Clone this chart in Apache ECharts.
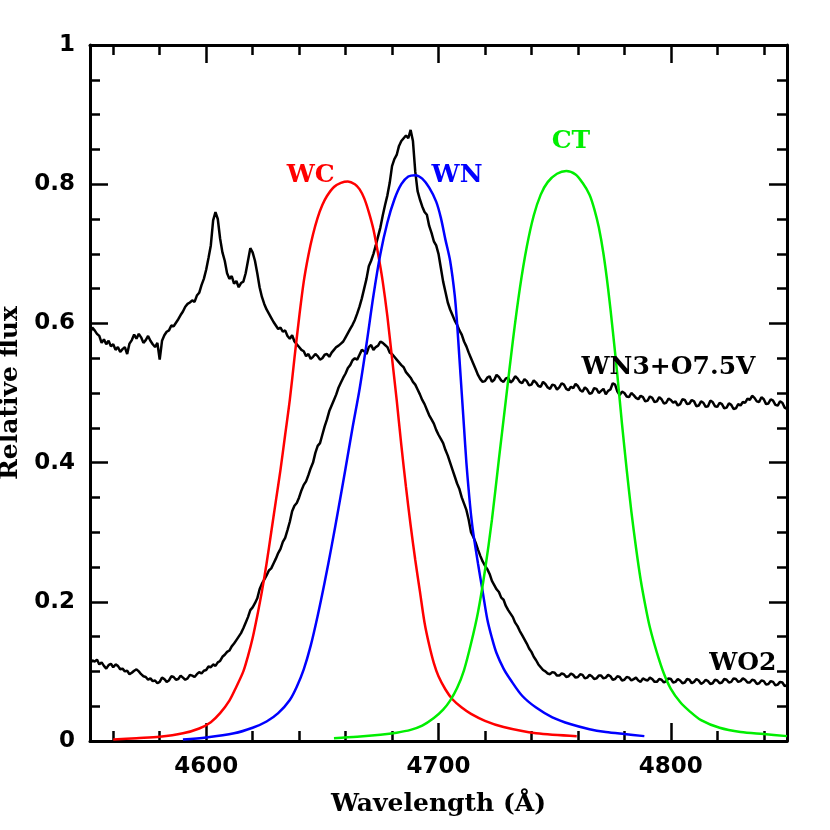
<!DOCTYPE html>
<html>
<head>
<meta charset="utf-8">
<script src="https://cdn.jsdelivr.net/npm/echarts@6/dist/echarts.min.js"></script>
<style>html,body{margin:0;padding:0;background:#fff}#chart{width:830px;height:830px}</style>
</head>
<body>
<div id="chart"></div>
<script>
// ---- data ----
const xTickLabels = [4600, 4700, 4800];
const yTickLabels = [0, 0.2, 0.4, 0.6, 0.8, 1];

// WN3+O7.5V spectrum, sampled every 1 A from 4550 to 4850
const wn3Flux = [
0.586,0.594,0.590,0.585,0.582,0.572,0.577,0.570,0.575,0.567,
0.570,0.562,0.566,0.559,0.563,0.566,0.556,0.571,0.576,0.584,
0.578,0.585,0.580,0.572,0.576,0.582,0.575,0.570,0.566,0.572,
0.548,0.575,0.583,0.588,0.590,0.597,0.596,0.601,0.606,0.612,
0.617,0.624,0.628,0.630,0.633,0.631,0.640,0.644,0.655,0.664,
0.677,0.694,0.712,0.748,0.760,0.750,0.722,0.702,0.690,0.672,
0.664,0.668,0.657,0.661,0.652,0.658,0.660,0.672,0.690,0.708,
0.702,0.690,0.672,0.652,0.638,0.628,0.620,0.614,0.608,0.602,
0.597,0.592,0.594,0.588,0.590,0.582,0.578,0.583,0.574,0.570,
0.566,0.562,0.560,0.553,0.556,0.549,0.552,0.556,0.553,0.548,
0.550,0.555,0.556,0.552,0.558,0.562,0.566,0.568,0.571,0.574,
0.580,0.586,0.592,0.598,0.605,0.614,0.624,0.636,0.650,0.664,
0.682,0.690,0.700,0.712,0.725,0.738,0.755,0.770,0.784,0.802,
0.826,0.836,0.842,0.855,0.862,0.866,0.870,0.866,0.878,0.862,
0.818,0.790,0.778,0.768,0.760,0.756,0.740,0.730,0.718,0.712,
0.700,0.680,0.660,0.645,0.630,0.620,0.612,0.604,0.598,0.590,
0.584,0.574,0.567,0.558,0.550,0.542,0.534,0.526,0.520,0.516,
0.517,0.522,0.524,0.516,0.519,0.526,0.523,0.518,0.516,0.521,
0.522,0.515,0.518,0.524,0.521,0.516,0.514,0.520,0.517,0.511,
0.512,0.518,0.515,0.510,0.509,0.516,0.513,0.508,0.506,0.512,
0.511,0.505,0.508,0.514,0.512,0.506,0.504,0.509,0.507,0.513,
0.510,0.504,0.502,0.508,0.505,0.499,0.500,0.507,0.506,0.500,
0.503,0.506,0.498,0.503,0.505,0.514,0.512,0.502,0.497,0.502,
0.500,0.495,0.494,0.500,0.497,0.493,0.491,0.496,0.494,0.488,
0.489,0.495,0.493,0.487,0.488,0.494,0.491,0.485,0.486,0.492,
0.490,0.486,0.488,0.482,0.484,0.491,0.490,0.484,0.485,0.490,
0.488,0.481,0.482,0.488,0.486,0.480,0.481,0.489,0.487,0.481,
0.480,0.486,0.484,0.478,0.479,0.485,0.483,0.477,0.478,0.484,
0.482,0.487,0.486,0.492,0.490,0.496,0.493,0.488,0.487,0.494,
0.491,0.484,0.485,0.491,0.489,0.483,0.482,0.488,0.486,0.479,
0.477
];

// WO2 spectrum, sampled every 1 A from 4550 to 4850
const wo2Flux = [
0.110,0.116,0.114,0.117,0.110,0.113,0.108,0.104,0.109,0.111,
0.106,0.110,0.108,0.103,0.104,0.100,0.101,0.096,0.098,0.101,
0.103,0.100,0.096,0.093,0.092,0.088,0.090,0.086,0.087,0.083,
0.085,0.091,0.089,0.085,0.087,0.093,0.092,0.088,0.089,0.094,
0.091,0.088,0.090,0.095,0.094,0.092,0.096,0.099,0.097,0.101,
0.102,0.107,0.106,0.110,0.108,0.113,0.115,0.121,0.124,0.128,
0.130,0.136,0.140,0.145,0.150,0.155,0.162,0.170,0.178,0.188,
0.192,0.198,0.205,0.218,0.226,0.232,0.238,0.245,0.248,0.255,
0.262,0.270,0.276,0.286,0.292,0.303,0.315,0.330,0.338,0.342,
0.350,0.360,0.368,0.373,0.382,0.392,0.400,0.414,0.424,0.428,
0.440,0.452,0.462,0.474,0.482,0.490,0.498,0.508,0.515,0.522,
0.528,0.536,0.540,0.547,0.550,0.548,0.555,0.562,0.560,0.556,
0.566,0.569,0.562,0.566,0.568,0.574,0.572,0.569,0.566,0.558,
0.556,0.552,0.548,0.544,0.540,0.537,0.530,0.526,0.522,0.516,
0.512,0.505,0.498,0.490,0.484,0.476,0.468,0.462,0.456,0.447,
0.440,0.434,0.428,0.418,0.410,0.400,0.390,0.380,0.370,0.362,
0.350,0.341,0.332,0.318,0.300,0.293,0.285,0.275,0.266,0.258,
0.252,0.247,0.240,0.230,0.224,0.218,0.214,0.206,0.203,0.194,
0.188,0.183,0.178,0.170,0.165,0.158,0.152,0.146,0.140,0.133,
0.128,0.121,0.116,0.110,0.106,0.102,0.100,0.097,0.096,0.099,
0.098,0.094,0.094,0.097,0.096,0.092,0.093,0.097,0.095,0.091,
0.092,0.096,0.095,0.090,0.091,0.095,0.093,0.089,0.090,0.094,
0.094,0.090,0.091,0.095,0.093,0.088,0.089,0.093,0.092,0.087,
0.088,0.092,0.091,0.087,0.089,0.091,0.087,0.085,0.090,0.088,
0.087,0.091,0.089,0.085,0.085,0.089,0.088,0.084,0.086,0.090,
0.089,0.084,0.085,0.089,0.087,0.083,0.084,0.089,0.088,0.083,
0.085,0.089,0.087,0.082,0.084,0.088,0.086,0.082,0.083,0.088,
0.087,0.083,0.084,0.089,0.088,0.084,0.085,0.090,0.089,0.085,
0.086,0.090,0.088,0.084,0.084,0.088,0.087,0.082,0.083,0.087,
0.086,0.081,0.082,0.086,0.085,0.080,0.081,0.085,0.084,0.079,
0.080
];

// Filter transmission curves
const wcWave  = [4560,4570,4580,4590,4597,4602,4606,4610,4613,4616,4618,4620,4622,4624,4626,4628,4630,4632,4634,4636,4638,4640,4642,4644,4646,4648,4650,4652,4655,4658,4661,4664,4666,4668,4670,4672,4674,4676,4678,4680,4682,4684,4686,4688,4690,4692,4694,4696,4698,4700,4703,4706,4710,4714,4720,4728,4742,4759.5];
const wcTrans = [0.002,0.004,0.006,0.011,0.018,0.027,0.040,0.058,0.078,0.100,0.122,0.148,0.180,0.215,0.255,0.300,0.345,0.390,0.440,0.490,0.550,0.608,0.660,0.698,0.728,0.752,0.770,0.783,0.796,0.802,0.804,0.800,0.793,0.780,0.760,0.735,0.700,0.660,0.610,0.550,0.490,0.425,0.365,0.310,0.260,0.215,0.170,0.138,0.112,0.093,0.074,0.060,0.048,0.039,0.029,0.020,0.011,0.007];

const wnWave  = [4590,4600,4612,4620,4626,4631,4636,4639,4642,4645,4648,4651,4654,4657,4660,4663,4666,4669,4672,4675,4678,4681,4684,4687,4690,4693,4696,4699,4701,4703,4705,4707,4708,4709,4710,4711,4712,4713,4714,4715,4717,4719,4721,4723,4725,4728,4731,4736,4742,4749,4757,4765,4772,4780,4788.6];
const wnTrans = [0.002,0.005,0.011,0.019,0.028,0.040,0.059,0.078,0.103,0.137,0.180,0.228,0.280,0.335,0.392,0.450,0.505,0.570,0.640,0.700,0.745,0.778,0.800,0.811,0.813,0.808,0.795,0.775,0.752,0.720,0.690,0.640,0.600,0.550,0.500,0.450,0.400,0.360,0.325,0.298,0.255,0.215,0.175,0.148,0.126,0.104,0.088,0.065,0.048,0.034,0.024,0.017,0.013,0.010,0.007];

const ctWave  = [4655,4665,4675,4682,4688,4693,4698,4702,4705,4708,4711,4714,4717,4720,4723,4726,4729,4732,4735,4738,4741,4744,4747,4751,4755,4759,4762,4765,4767,4769,4771,4773,4775,4777,4779,4781,4783,4785,4787,4789,4791,4794,4797,4800,4804,4808,4813,4821,4830,4840,4850];
const ctTrans = [0.004,0.006,0.009,0.012,0.016,0.022,0.033,0.045,0.058,0.076,0.102,0.140,0.185,0.245,0.318,0.405,0.490,0.575,0.650,0.710,0.755,0.785,0.803,0.815,0.819,0.814,0.802,0.785,0.765,0.738,0.700,0.650,0.590,0.525,0.455,0.390,0.330,0.278,0.232,0.195,0.163,0.127,0.097,0.075,0.056,0.043,0.030,0.019,0.013,0.010,0.007];

// ---- build ----
const specStart = 4550, specStep = 1;
function specPairs(arr){ return arr.map((v,i)=>[specStart + i*specStep, v]); }
function pairs(xs, ys){ return xs.map((x,i)=>[x, ys[i]]); }

const xMinor = []; for (let v = 4560; v <= 4840; v += 20) if (v % 100 !== 0) xMinor.push(v);
const yMinor = []; for (let k = 1; k < 20; k++) if (k % 4 !== 0) yMinor.push(Math.round(k*5)/100);

const FONT_LBL = 'DejaVu Sans';
const FONT_TTL = 'DejaVu Serif';
const black = '#000';

function xAx(pos, ticks, len, showLine, showLabel){
  return {
    type:'value', min:4550, max:4850, position:pos, gridIndex:0,
    axisLine:{show:showLine, onZero:false, lineStyle:{color:black, width:3}},
    axisTick:{show:true, inside:true, length:len, customValues:ticks, lineStyle:{color:black, width:2.5}},
    axisLabel:{show:showLabel, customValues:ticks, formatter:(v)=>String(v), margin:15, fontSize:23, fontWeight:'bold', color:black, fontFamily:FONT_LBL},
    splitLine:{show:false}
  };
}
function yAx(pos, ticks, len, showLine, showLabel){
  return {
    type:'value', min:0, max:1, position:pos, gridIndex:0,
    axisLine:{show:showLine, onZero:false, lineStyle:{color:black, width:3}},
    axisTick:{show:true, inside:true, length:len, customValues:ticks, lineStyle:{color:black, width:2.5}},
    axisLabel:{show:showLabel, customValues:ticks, formatter:(v)=>String(v), margin:15, fontSize:23, fontWeight:'bold', color:black, fontFamily:FONT_LBL},
    splitLine:{show:false}
  };
}

const xMain = xAx('bottom', xTickLabels, 18, true, true);
xMain.name = 'Wavelength (Å)';
xMain.nameLocation = 'middle';
xMain.nameGap = 51;
xMain.nameTextStyle = {fontSize:25, fontWeight:'bold', color:black, fontFamily:FONT_TTL};

const yMain = yAx('left', yTickLabels, 18, true, true);
yMain.name = 'Relative flux';
yMain.nameLocation = 'middle';
yMain.nameGap = 58;
yMain.nameTextStyle = {fontSize:25, fontWeight:'bold', color:black, fontFamily:FONT_TTL};

function lbl(text, color, coord){
  return {
    symbol:'circle', symbolSize:0, silent:true,
    label:{show:true, position:'inside', formatter:text, color:color, fontSize:25, fontWeight:'bold', fontFamily:FONT_TTL},
    data:[{coord:coord}]
  };
}

const chart = echarts.init(document.getElementById('chart'), null, {renderer:'canvas'});
chart.setOption({
  animation:false,
  backgroundColor:'#fff',
  grid:{left:90, right:43, top:45, bottom:89, containLabel:false, outerBoundsMode:'none'},
  xAxis:[
    xMain,
    xAx('bottom', xMinor, 10, false, false),
    xAx('top', xTickLabels, 18, true, false),
    xAx('top', xMinor, 10, false, false)
  ],
  yAxis:[
    yMain,
    yAx('left', yMinor, 10, false, false),
    yAx('right', yTickLabels, 18, true, false),
    yAx('right', yMinor, 10, false, false)
  ],
  series:[
    {type:'line', name:'WN3+O7.5V', data:specPairs(wn3Flux), showSymbol:false, lineStyle:{color:black, width:2.5}, markPoint:lbl('WN3+O7.5V', black, [4799, 0.536])},
    {type:'line', name:'WO2', data:specPairs(wo2Flux), showSymbol:false, lineStyle:{color:black, width:2.5}, markPoint:lbl('WO2', black, [4831, 0.112])},
    {type:'line', name:'WC', data:pairs(wcWave, wcTrans), showSymbol:false, smooth:0.3, lineStyle:{color:'#ff0000', width:2.5}, markPoint:lbl('WC', '#ff0000', [4645, 0.813])},
    {type:'line', name:'WN', data:pairs(wnWave, wnTrans), showSymbol:false, smooth:0.3, lineStyle:{color:'#0000ff', width:2.5}, markPoint:lbl('WN', '#0000ff', [4708, 0.813])},
    {type:'line', name:'CT', data:pairs(ctWave, ctTrans), showSymbol:false, smooth:0.3, lineStyle:{color:'#00ee00', width:2.5}, markPoint:lbl('CT', '#00ee00', [4757, 0.861])}
  ]
});
</script>
</body>
</html>
